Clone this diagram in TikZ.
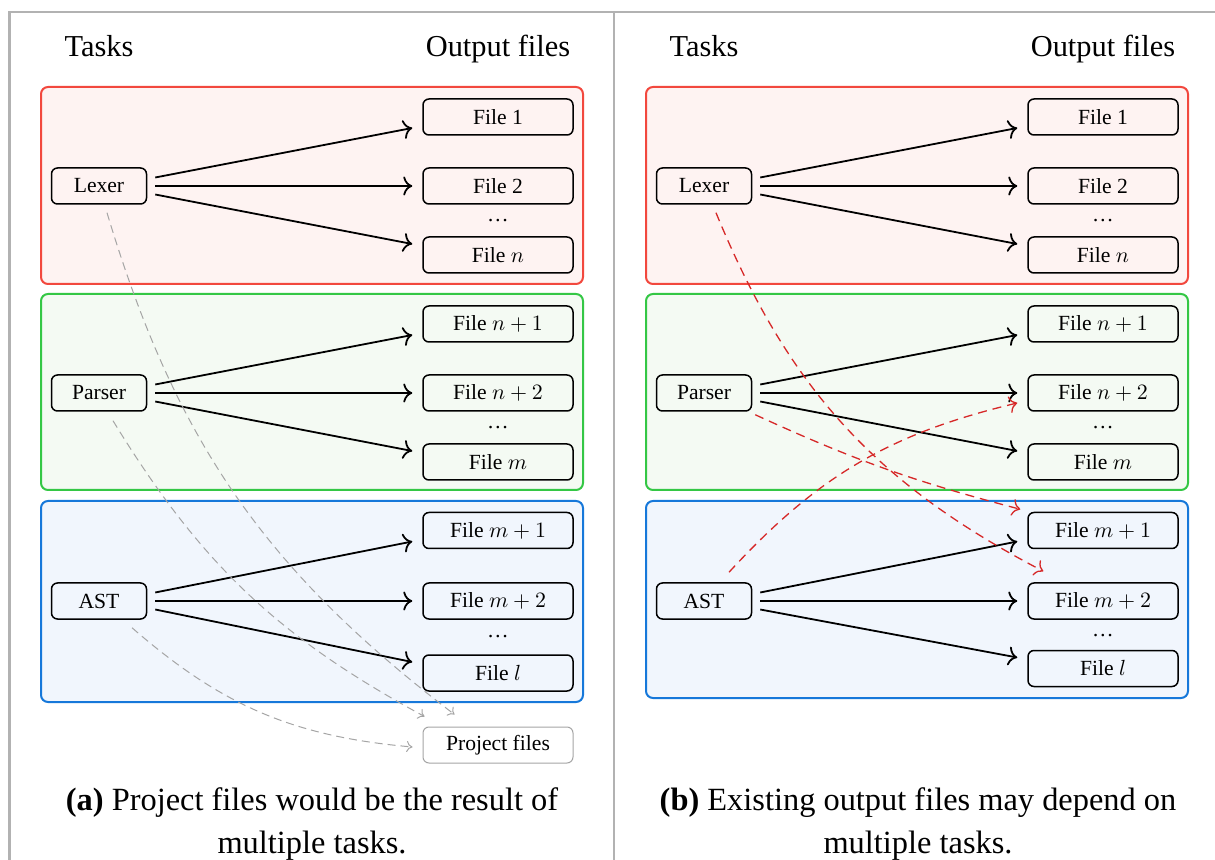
\documentclass[tikz,border=0pt]{standalone}
\usepackage{fontspec}
\setmainfont{Liberation Serif}
\usetikzlibrary{arrows.meta}

\definecolor{framegray}{RGB}{178,178,178}
\definecolor{lexred}{RGB}{242,72,62}
\definecolor{lexfill}{RGB}{254,243,242}
\definecolor{pargreen}{RGB}{52,199,69}
\definecolor{parfill}{RGB}{244,250,243}
\definecolor{astblue}{RGB}{22,120,218}
\definecolor{astfill}{RGB}{241,246,253}
\definecolor{depred}{RGB}{214,40,40}
\definecolor{depgray}{RGB}{165,165,165}

\tikzset{
  task/.style={draw, line width=0.75pt, rounded corners=3pt, minimum width=47.5pt,
    minimum height=18pt, inner sep=0pt, font=\fontsize{10.8}{12}\selectfont},
  outfile/.style={task, minimum width=75pt},
  header/.style={anchor=base, inner sep=0pt, font=\fontsize{15.2}{18}\selectfont},
  gap/.style={inner sep=0pt, font=\fontsize{10.8}{12}\selectfont},
  caption/.style={anchor=base, inner sep=0pt, font=\fontsize{16.2}{21}\selectfont},
  group/.style={line width=1pt, rounded corners=3.5pt},
  flow/.style={line width=0.9pt,
    -{Computer Modern Rightarrow[length=4.5pt,width=9.5pt]}},
  outdep/.style={depred, line width=0.65pt, dash pattern=on 4.5pt off 3pt,
    -{Computer Modern Rightarrow[length=4pt,width=8.5pt]}},
  projdep/.style={depgray, line width=0.5pt, dash pattern=on 4pt off 2.5pt,
    -{Computer Modern Rightarrow[length=3pt,width=5.5pt]}},
}

% One panel: #1 name prefix, #2 horizontal offset, #3 y of the last file,
% #4 bottom of the AST group, #5 y of the last gap
\newcommand\taskpanel[5]{%
\begin{scope}[shift={(#2,0)}]
  \draw[group, draw=lexred, fill=lexfill] (41,-87) rectangle (583,-284);
  \draw[group, draw=pargreen, fill=parfill] (41,-294) rectangle (583,-490);
  \draw[group, draw=astblue, fill=astfill] (41,-501) rectangle (583,-#4);
  \node[header] (#1tasks) at (99,-57) {Tasks};
  \node[header] (#1outputs) at (498,-57) {Output files};
  \node[task] (#1lexer) at (99,-186) {Lexer};
  \node[task] (#1parser) at (99,-393) {Parser};
  \node[task] (#1ast) at (99,-601) {AST};
  \node[outfile] (#1f1) at (498,-117) {File 1};
  \node[outfile] (#1f2) at (498,-186) {File 2};
  \node[gap] (#1g1) at (498,-220.5) {\ldots};
  \node[outfile] (#1fn) at (498,-255) {File $n$};
  \node[outfile] (#1fn1) at (498,-324) {File $n+1$};
  \node[outfile] (#1fn2) at (498,-393) {File $n+2$};
  \node[gap] (#1g2) at (498,-427.5) {\ldots};
  \node[outfile] (#1fm) at (498,-462) {File $m$};
  \node[outfile] (#1fm1) at (498,-530.5) {File $m+1$};
  \node[outfile] (#1fm2) at (498,-601) {File $m+2$};
  \node[gap] (#1g3) at (498,-#5) {\ldots};
  \node[outfile] (#1fl) at (498,-#3) {File $l$};
  \foreach \src/\ta/\tb/\tc in {lexer/f1/f2/fn, parser/fn1/fn2/fm, ast/fm1/fm2/fl} {
    \draw[flow] ([shift={(8,8.5)}]#1\src.east) -- ([shift={(-10,-11)}]#1\ta.west);
    \draw[flow] ([shift={(8,0)}]#1\src.east) -- ([shift={(-10,0)}]#1\tb.west);
    \draw[flow] ([shift={(8,-8.5)}]#1\src.east) -- ([shift={(-10,11)}]#1\tc.west);
  }
\end{scope}}

\begin{document}
\begin{tikzpicture}[x=0.5pt, y=0.5pt]
  \useasboundingbox (0,0) rectangle (1215,-860);
  \fill[white] (0,0) rectangle (1215,-860);
  \clip (0,0) rectangle (1215,-860);

  % frame of the two sub-figures
  \draw[framegray, line width=1.2pt] (9.5,-900) -- (9.5,-12) -- (1240,-12);
  \draw[framegray, line width=1.2pt] (614,-12) -- (614,-900);

  \taskpanel{a-}{0}{673}{702}{637}
  \taskpanel{b-}{605}{668.5}{698}{635.5}

  % project files depend on every task
  \node[outfile, draw=depgray, line width=0.5pt] (a-proj) at (498,-745) {Project files};
  \draw[projdep] ([shift={(8,-8)}]a-lexer.south) to[bend right=18]
    ([shift={(32,12)}]a-proj.north west);
  \draw[projdep] ([shift={(14,-9)}]a-parser.south) to[bend right=15]
    ([shift={(2,10)}]a-proj.north west);
  \draw[projdep] ([shift={(33,-8)}]a-ast.south) to[bend right=18]
    ([shift={(-10,-2)}]a-proj.west);

  % cross dependencies on existing outputs
  \draw[outdep] ([shift={(12,-8)}]b-lexer.south) to[bend right=20]
    ([shift={(16,11)}]b-fm2.north west);
  \draw[outdep] ([shift={(3,-3)}]b-parser.south east) to[bend right=5]
    ([shift={(-7,2.5)}]b-fm1.north west);
  \draw[outdep] ([shift={(25,10)}]b-ast.north) to[bend left=17]
    ([shift={(-10,-10)}]b-fn2.west);

  % captions
  \node[caption] (capa1) at (312,-810) {\textbf{(a)} Project files would be the result of};
  \node[caption] (capa2) at (312,-853) {multiple tasks.};
  \node[caption] (capb1) at (918,-810) {\textbf{(b)} Existing output files may depend on};
  \node[caption] (capb2) at (918,-853) {multiple tasks.};
\end{tikzpicture}
\end{document}
